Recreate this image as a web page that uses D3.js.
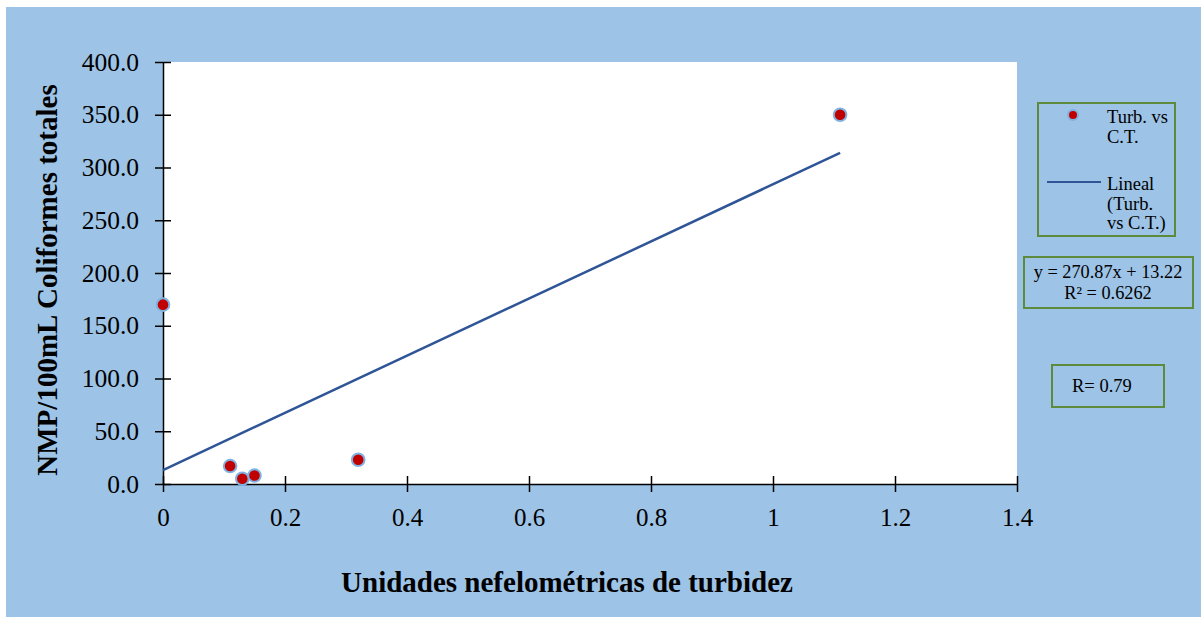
<!DOCTYPE html>
<html><head><meta charset="utf-8">
<script src="https://cdn.jsdelivr.net/npm/d3@7"></script>
<style>html,body{margin:0;padding:0;background:#fff;}svg{display:block;}</style>
</head><body>
<svg id="c" width="1201" height="617"></svg>
<script>
const xValues = [0, 0.11, 0.13, 0.15, 0.32, 1.11];
const yValues = [170, 17, 5, 8, 23, 350];
const xTicks = [0, 0.2, 0.4, 0.6, 0.8, 1, 1.2, 1.4];
const yTicks = [0, 50, 100, 150, 200, 250, 300, 350, 400];
const slope = 270.87, intercept = 13.22;
const trendX = [0, 1.11];
const legendLabels = [["Turb. vs", "C.T."], ["Lineal", "(Turb.", "vs C.T.)"]];
const eqLines = ["y = 270.87x + 13.22", "R\u00B2 = 0.6262"];
const rText = "R= 0.79";
const xTitle = "Unidades nefelom\u00E9tricas de turbidez";
const yTitle = "NMP/100mL Coliformes totales";

const svg = d3.select("#c");
const font = "'Liberation Serif','Times New Roman',serif";
const bg = "#9DC3E6", green = "#5E8B3B", lineCol = "#2F5597";
svg.append("rect").attr("x",6).attr("y",7).attr("width",1195).attr("height",610).attr("fill",bg);

const x = d3.scaleLinear().domain([0,1.4]).range([163,1017]);
const y = d3.scaleLinear().domain([0,400]).range([484,62]);

svg.append("rect").attr("x",163).attr("y",62).attr("width",854).attr("height",422).attr("fill","#fff");

// axes
const xAxis = d3.axisBottom(x).tickValues(xTicks).tickSizeInner(8).tickSizeOuter(0).tickPadding(16)
  .tickFormat(d=>d3.format("")(d));
const gx = svg.append("g").attr("transform","translate(0,484)").call(xAxis);
gx.selectAll(".tick line").attr("y1",-8).attr("stroke","#000").attr("stroke-width",1.5);
gx.select(".domain").attr("stroke","#000").attr("stroke-width",1.5);
gx.selectAll("text").attr("font-family",font).attr("font-size",25).attr("fill","#000");

const yAxis = d3.axisLeft(y).tickValues(yTicks).tickSizeInner(8).tickSizeOuter(0).tickPadding(16)
  .tickFormat(d3.format(".1f"));
const gy = svg.append("g").attr("transform","translate(163,0)").call(yAxis);
gy.selectAll(".tick line").attr("x1",8).attr("stroke","#000").attr("stroke-width",1.5);
gy.select(".domain").attr("stroke","#000").attr("stroke-width",1.5);
gy.selectAll("text").attr("font-family",font).attr("font-size",25.5).attr("fill","#000");

// trend line
svg.append("line").attr("x1",x(trendX[0])).attr("y1",y(slope*trendX[0]+intercept))
  .attr("x2",x(trendX[1])).attr("y2",y(slope*trendX[1]+intercept))
  .attr("stroke",lineCol).attr("stroke-width",2.5);

// points
svg.append("g").selectAll("circle").data(xValues.map((v,i)=>[v,yValues[i]])).join("circle")
  .attr("cx",d=>x(d[0])).attr("cy",d=>y(d[1])).attr("r",6.3)
  .attr("fill","#C00000").attr("stroke","#7FB2E0").attr("stroke-width",2);

// titles
svg.append("text").attr("x",567).attr("y",592).attr("text-anchor","middle")
  .attr("font-family",font).attr("font-weight","bold").attr("font-size",29).text(xTitle);
svg.append("text").attr("transform","translate(57,280) rotate(-90)").attr("text-anchor","middle")
  .attr("font-family",font).attr("font-weight","bold").attr("font-size",29).text(yTitle);

// legend
svg.append("rect").attr("x",1038).attr("y",103).attr("width",137).attr("height",133)
  .attr("fill","none").attr("stroke",green).attr("stroke-width",2);
svg.append("circle").attr("cx",1073).attr("cy",115).attr("r",5).attr("fill","#C00000").attr("stroke","#7FB2E0").attr("stroke-width",2);
svg.append("line").attr("x1",1047).attr("x2",1101).attr("y1",182).attr("y2",182).attr("stroke",lineCol).attr("stroke-width",2);
const lg1 = svg.append("text").attr("font-family",font).attr("font-size",18.5);
legendLabels[0].forEach((t,i)=>lg1.append("tspan").attr("x",1107).attr("y",123+i*20).text(t));
const lg2 = svg.append("text").attr("font-family",font).attr("font-size",18.5);
legendLabels[1].forEach((t,i)=>lg2.append("tspan").attr("x",1107).attr("y",190+i*19.5).text(t));

// equation box
svg.append("rect").attr("x",1024).attr("y",257).attr("width",169).attr("height",51)
  .attr("fill","none").attr("stroke",green).attr("stroke-width",2);
const eq = svg.append("text").attr("font-family",font).attr("font-size",18.3).attr("text-anchor","middle");
eqLines.forEach((t,i)=>eq.append("tspan").attr("x",1108).attr("y",278+i*21).text(t));

// R box
svg.append("rect").attr("x",1052).attr("y",365).attr("width",112).attr("height",42)
  .attr("fill","none").attr("stroke",green).attr("stroke-width",2);
svg.append("text").attr("x",1072).attr("y",392).attr("font-family",font).attr("font-size",18.5).text(rText);
</script>
</body></html>
